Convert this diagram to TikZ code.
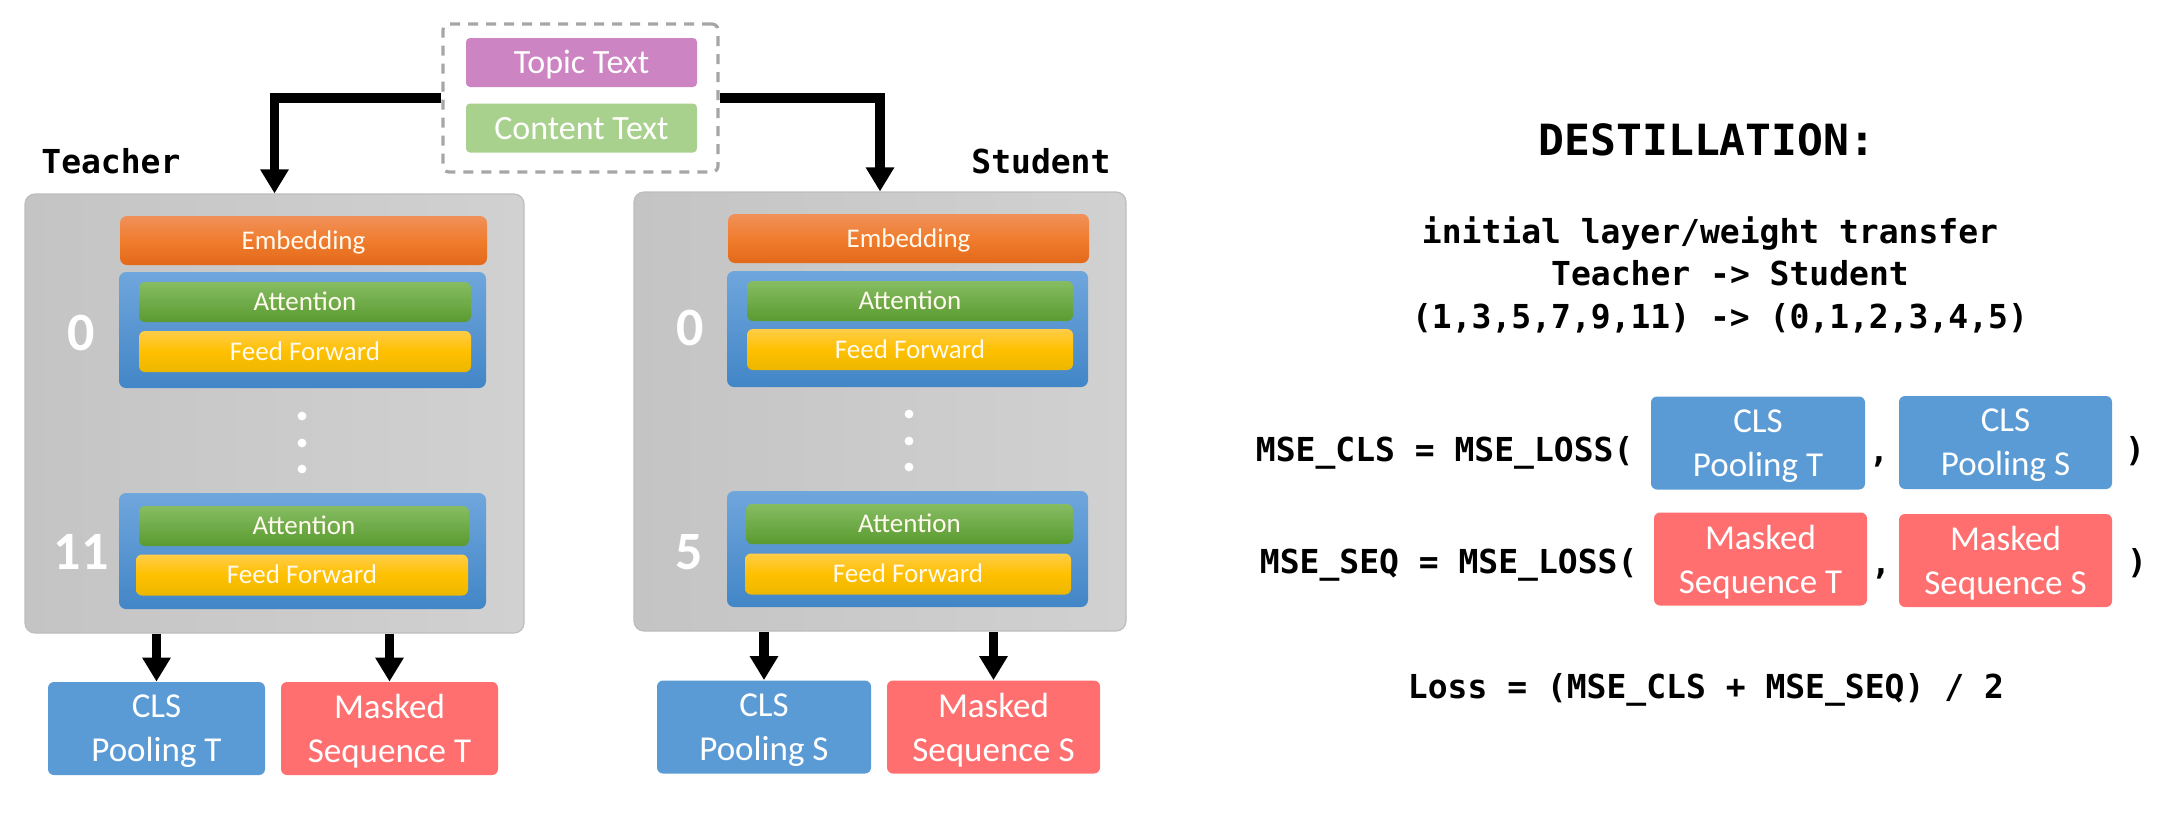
\documentclass[tikz,border=0pt]{standalone}
\usepackage{fontspec}
\setmainfont{Carlito}
\newfontfamily\codefont{DejaVu Sans Mono}
\usetikzlibrary{arrows.meta}

\definecolor{towerleft}{HTML}{C4C4C4}
\definecolor{towerright}{HTML}{D1D1D1}
\definecolor{towerline}{HTML}{BDBDBD}
\definecolor{embtop}{HTML}{F0915A}
\definecolor{embmid}{HTML}{F07C2E}
\definecolor{embbot}{HTML}{E3691A}
\definecolor{laytop}{HTML}{6FA6DC}
\definecolor{laybot}{HTML}{4286C7}
\definecolor{atttop}{HTML}{86BD62}
\definecolor{attbot}{HTML}{5A9A30}
\definecolor{fftop}{HTML}{FFCD48}
\definecolor{ffmid}{HTML}{FFC000}
\definecolor{ffbot}{HTML}{ECB700}
\definecolor{topicpink}{HTML}{CC84C2}
\definecolor{contentgreen}{HTML}{A9D18E}
\definecolor{clsblue}{HTML}{5B9BD5}
\definecolor{maskred}{HTML}{FF6F6F}
\definecolor{dashgray}{HTML}{A6A6A6}
\definecolor{boxwhite}{HTML}{FFF9EE}

\begin{document}
\begin{tikzpicture}[x=0.5pt, y=-0.5pt,
    boxtext/.style={inner sep=0pt, text height=11.4pt, text depth=2.7pt, text=boxwhite},
    tower/.style={draw=towerline, line width=0.6pt, left color=towerleft, right color=towerright,
        rounded corners=5pt, minimum height=219.5pt, inner sep=0pt},
    embed/.style={boxtext, top color=embtop, bottom color=embbot, middle color=embmid,
        rounded corners=3.5pt, minimum height=24.5pt, font=\fontsize{13.5}{16}\selectfont},
    layer/.style={top color=laytop, bottom color=laybot, rounded corners=3.5pt,
        minimum height=58pt, inner sep=0pt},
    attn/.style={boxtext, top color=atttop, bottom color=attbot, rounded corners=3pt,
        minimum height=20pt, font=\fontsize{13.5}{16}\selectfont},
    ffwd/.style={boxtext, top color=fftop, bottom color=ffbot, middle color=ffmid,
        rounded corners=3pt, minimum height=20.5pt, font=\fontsize{13.5}{16}\selectfont},
    layernum/.style={inner sep=0pt, text=white, font=\bfseries\fontsize{27}{30}\selectfont},
    inbox/.style={boxtext, text height=14.4pt, text depth=3.4pt, text=white, rounded corners=2pt,
        minimum width=115.5pt, minimum height=24.5pt, font=\fontsize{17}{20}\selectfont},
    outbox/.style={align=center, inner sep=0pt, text depth=0pt, text=white, rounded corners=3pt,
        minimum height=46.5pt, font=\fontsize{17.5}{22}\selectfont},
    clsbox/.style={outbox, fill=clsblue},
    maskbox/.style={outbox, fill=maskred},
    code/.style={inner sep=0pt, font=\codefont\bfseries\fontsize{16.5}{20}\selectfont},
    flow/.style={line width=4.8pt, -{Triangle[width=13.5pt, length=12pt]}},
]

\useasboundingbox (0,0) rectangle (2171,821);

% Input texts
\node[inbox, fill=topicpink] (topic) at (581.5,62.5) {Topic Text};
\node[inbox, fill=contentgreen] (content) at (581.5,128) {Content Text};
\node[draw=dashgray, line width=1.6pt, dash pattern=on 5pt off 4pt, rounded corners=3pt,
    minimum width=137.5pt, minimum height=74pt] (input) at (580.5,98) {};

% Teacher
\node[tower, minimum width=249.5pt] (teacher) at (274.5,413.5) {};
\node[code, anchor=base west] (teacherlabel) at (41,173) {Teacher};
\node[embed, minimum width=183.5pt] (tembed) at (303.5,240.5) {Embedding};

\node[layer, minimum width=183.5pt] (tlayerA) at (302.5,330) {};
\node[attn, minimum width=166pt] (tattA) at (305,302) {Attention};
\node[ffwd, minimum width=166pt] (tffA) at (305,351.5) {Feed Forward};
\node[layernum] (tnumA) at (81,333) {0};

\fill[white] (302,416) circle (2.2pt) (302,443) circle (2.2pt) (302,469) circle (2.2pt);

\node[layer, minimum width=183.5pt] (tlayerB) at (302.5,551) {};
\node[attn, minimum width=165pt] (tattB) at (304,526) {Attention};
\node[ffwd, minimum width=166pt] (tffB) at (302,575) {Feed Forward};
\node[layernum] (tnumB) at (81,552) {11};

\node[clsbox, minimum width=108.5pt] (tcls) at (156.5,728.5) {CLS\\Pooling T};
\node[maskbox, minimum width=108.5pt] (tmask) at (389.5,728.5) {Masked\\Sequence T};

% Student
\node[tower, minimum width=246pt] (student) at (880,411.5) {};
\node[code, anchor=base west] (studentlabel) at (971,173) {Student};
\node[embed, minimum width=180.5pt] (sembed) at (908.5,238.5) {Embedding};

\node[layer, minimum width=180.5pt] (slayerA) at (907.5,329) {};
\node[attn, minimum width=163pt] (sattA) at (910,301) {Attention};
\node[ffwd, minimum width=163pt] (sffA) at (910,349.5) {Feed Forward};
\node[layernum] (snumA) at (690,328) {0};

\fill[white] (909,414) circle (2.2pt) (909,441) circle (2.2pt) (909,467) circle (2.2pt);

\node[layer, minimum width=180.5pt] (slayerB) at (907.5,549) {};
\node[attn, minimum width=163.5pt] (sattB) at (909.5,524) {Attention};
\node[ffwd, minimum width=163pt] (sffB) at (908,574) {Feed Forward};
\node[layernum] (snumB) at (689,552) {5};

\node[clsbox, minimum width=107pt] (scls) at (764,727) {CLS\\Pooling S};
\node[maskbox, minimum width=106.5pt] (smask) at (993.5,727) {Masked\\Sequence S};

% Arrows
\draw[flow] (input.west) -| (teacher.north);
\draw[flow] (input.east) -| (student.north);
\draw[flow] (teacher.south -| tcls.north) -- (tcls.north);
\draw[flow] (teacher.south -| tmask.north) -- (tmask.north);
\draw[flow] (student.south -| scls.north) -- (scls.north);
\draw[flow] (student.south -| smask.north) -- (smask.north);

% Destillation
\node[code, font=\codefont\bfseries\fontsize{21.5}{26}\selectfont, anchor=base] (title) at (1707,155) {DESTILLATION:};
\node[code, anchor=base] (transfer) at (1710,243) {initial layer/weight transfer};
\node[code, anchor=base] (direction) at (1730,285) {Teacher -> Student};
\node[code, anchor=base] (mapping) at (1720,328) {(1,3,5,7,9,11) -> (0,1,2,3,4,5)};

\node[code, anchor=base west] (clseq) at (1255.5,461) {MSE\_CLS = MSE\_LOSS(};
\node[clsbox, minimum width=107pt] (clsT) at (1758,443) {CLS\\Pooling T};
\node[code, anchor=base] (clscomma) at (1879,462) {,};
\node[clsbox, minimum width=106.5pt] (clsS) at (2005.5,442.5) {CLS\\Pooling S};
\node[code, anchor=base] (clsclose) at (2135,461) {)};

\node[code, anchor=base west] (seqeq) at (1259.5,573) {MSE\_SEQ = MSE\_LOSS(};
\node[maskbox, minimum width=106.5pt] (maskT) at (1760.5,559) {Masked\\Sequence T};
\node[code, anchor=base] (seqcomma) at (1881,574) {,};
\node[maskbox, minimum width=106.5pt] (maskS) at (2005.5,560.5) {Masked\\Sequence S};
\node[code, anchor=base] (seqclose) at (2137,573) {)};

\node[code, anchor=base west] (lossline) at (1407.5,698) {Loss = (MSE\_CLS + MSE\_SEQ) / 2};

\end{tikzpicture}
\end{document}
